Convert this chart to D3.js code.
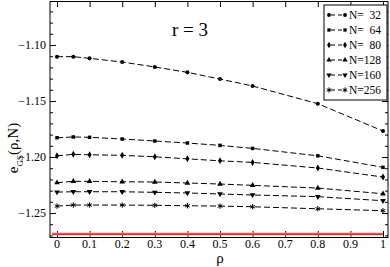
<!DOCTYPE html>
<html>
<head>
<meta charset="utf-8">
<script src="https://cdn.jsdelivr.net/npm/d3@7"></script>
<style>
  body { margin: 0; background: #fff; }
  svg { display: block; font-family: "Liberation Serif", "DejaVu Serif", serif; }
  .frame { fill: none; stroke: #000; stroke-width: 1; }
  .tick-label { font-size: 12px; fill: #000; }
  .series { fill: none; stroke: #000; stroke-width: 1; stroke-dasharray: 6,3; }
  .legend-text { font-size: 11.5px; white-space: pre; }
</style>
</head>
<body>
<div id="chart"></div>
<script>
// Data
var rhoValues = [0, 0.05, 0.1, 0.2, 0.3, 0.4, 0.5, 0.6, 0.8, 1];
var seriesNames = ["N=  32", "N=  64", "N=  80", "N=128", "N=160", "N=256"];
var e32  = [-1.1104, -1.1104, -1.1119, -1.1152, -1.1196, -1.1244, -1.1304, -1.1366, -1.1524, -1.1768];
var e64  = [-1.1828, -1.1821, -1.1824, -1.1839, -1.1857, -1.1875, -1.1896, -1.1923, -1.1989, -1.2092];
var e80  = [-1.1989, -1.1976, -1.1980, -1.1985, -1.1998, -1.2016, -1.2034, -1.2048, -1.2098, -1.2179];
var e128 = [-1.2229, -1.2217, -1.2217, -1.2221, -1.2223, -1.2232, -1.2241, -1.2253, -1.2277, -1.2328];
var e160 = [-1.2313, -1.2310, -1.2310, -1.2310, -1.2315, -1.2321, -1.2330, -1.2339, -1.2354, -1.2390];
var e256 = [-1.2438, -1.2429, -1.2429, -1.2429, -1.2431, -1.2435, -1.2438, -1.2444, -1.2462, -1.2479];
var refLevel = -1.2688;
var xTicks = [0, 0.1, 0.2, 0.3, 0.4, 0.5, 0.6, 0.7, 0.8, 0.9, 1];
var yTicks = [-1.25, -1.20, -1.15, -1.10];

var allSeries = [e32, e64, e80, e128, e160, e256];
var symbols = [d3.symbolCircle, d3.symbolSquare, d3.symbolDiamond, d3.symbolTriangle, "down", d3.symbolAsterisk];

var width = 390, height = 267;
var frame = { left: 50, right: 388, top: 1, bottom: 237 };

var svg = d3.select("#chart").append("svg")
  .attr("width", width)
  .attr("height", height);

var xScale = d3.scaleLinear().domain([-0.0215, 1.0153]).range([frame.left, frame.right]);
var yScale = d3.scaleLinear().domain([-1.2714, -1.0607]).range([frame.bottom, frame.top]);

var fmtY = d3.format(".2f");
var fmtX = function(d) { return d === 0 || d === 1 ? String(d) : d3.format(".1f")(d); };

// Axes (ticks pointing inward, on all four sides)
var minorY = d3.range(-1.27, -1.06, 0.01).map(function(d) { return +d.toFixed(2); });

function noDomain(g) { g.select(".domain").remove(); }

svg.append("g").attr("transform", "translate(" + frame.left + ",0)")
  .call(d3.axisRight(yScale).tickValues(minorY).tickSize(3).tickFormat(""))
  .call(noDomain);
svg.append("g").attr("transform", "translate(" + frame.left + ",0)")
  .call(d3.axisRight(yScale).tickValues(yTicks).tickSize(6).tickFormat(""))
  .call(noDomain);
svg.append("g").attr("transform", "translate(" + frame.right + ",0)")
  .call(d3.axisLeft(yScale).tickValues(minorY).tickSize(3).tickFormat(""))
  .call(noDomain);
svg.append("g").attr("transform", "translate(" + frame.right + ",0)")
  .call(d3.axisLeft(yScale).tickValues(yTicks).tickSize(6).tickFormat(""))
  .call(noDomain);
svg.append("g").attr("transform", "translate(0," + frame.bottom + ")")
  .call(d3.axisTop(xScale).tickValues(xTicks).tickSize(6).tickFormat(""))
  .call(noDomain);
svg.append("g").attr("transform", "translate(0," + frame.top + ")")
  .call(d3.axisBottom(xScale).tickValues(xTicks).tickSize(6).tickFormat(""))
  .call(noDomain);

// Tick labels
svg.append("g").selectAll("text")
  .data(yTicks).enter().append("text")
  .attr("class", "tick-label")
  .attr("x", frame.left - 4)
  .attr("y", d => yScale(d) + 4)
  .attr("text-anchor", "end")
  .text(d => fmtY(d));

svg.append("g").selectAll("text")
  .data(xTicks).enter().append("text")
  .attr("class", "tick-label")
  .attr("x", d => xScale(d))
  .attr("y", 248)
  .attr("text-anchor", "middle")
  .text(fmtX);

// Axis titles
svg.append("text")
  .attr("x", xScale(0.5))
  .attr("y", 263)
  .attr("text-anchor", "middle")
  .style("font-size", "15px")
  .text("ρ");

var yTitle = svg.append("text")
  .attr("transform", "translate(18,148) rotate(-90)")
  .attr("text-anchor", "middle")
  .style("font-size", "15px");
yTitle.append("tspan").text("e");
yTitle.append("tspan").attr("baseline-shift", "sub").style("font-size", "9px").text("GS");
yTitle.append("tspan").text("(ρ,N)");

// Reference line
svg.append("line")
  .attr("x1", xScale(-0.015)).attr("x2", xScale(1))
  .attr("y1", yScale(refLevel)).attr("y2", yScale(refLevel))
  .attr("stroke", "#eeb0b0").attr("stroke-width", 3);
svg.append("line")
  .attr("x1", xScale(-0.015)).attr("x2", xScale(1))
  .attr("y1", yScale(refLevel)).attr("y2", yScale(refLevel))
  .attr("stroke", "#e00000").attr("stroke-width", 1.3);

// Series
var line = d3.line().x((d, i) => xScale(rhoValues[i])).y(d => yScale(d));

function drawSymbol(sel, sym, scale) {
  var s = scale || 1;
  if (sym === "down") sym = d3.symbolTriangle;
  if (sym === d3.symbolAsterisk) {
    sel.append("path")
      .attr("d", d3.symbol().type(sym).size(20 * s)())
      .attr("fill", "none").attr("stroke", "#000").attr("stroke-width", 1);
    return;
  }
  var size = sym === d3.symbolCircle ? 13 : (sym === d3.symbolSquare ? 12 : 14);
  sel.append("path")
    .attr("d", d3.symbol().type(sym).size(size * s)())
    .attr("fill", "#000");
}

allSeries.forEach(function(vals, k) {
  var g = svg.append("g");
  g.append("path").attr("class", "series").attr("d", line(vals));
  var pts = g.selectAll("g.pt").data(vals).enter().append("g")
    .attr("class", "pt")
    .attr("transform", (d, i) => "translate(" + xScale(rhoValues[i]) + "," + yScale(d) + ")" + (symbols[k] === "down" ? " rotate(180)" : ""));
  drawSymbol(pts, symbols[k]);
});

// Title
svg.append("text")
  .attr("x", 190)
  .attr("y", 36)
  .attr("text-anchor", "middle")
  .style("font-size", "19px")
  .text("r = 3");

// Legend
var legend = svg.append("g").attr("transform", "translate(324,5)");
legend.append("rect")
  .attr("width", 63).attr("height", 95)
  .attr("fill", "#fff").attr("stroke", "#000").attr("stroke-width", 1);
seriesNames.forEach(function(name, k) {
  var row = legend.append("g").attr("transform", "translate(0," + (10 + k * 15) + ")");
  row.append("line")
    .attr("x1", 5).attr("x2", 21).attr("y1", 0).attr("y2", 0)
    .attr("class", "series")
    .style("stroke-dasharray", "4,3")
    .attr("stroke-dashoffset", -2);
  [5, 21].forEach(function(px) {
    var m = row.append("g").attr("transform", "translate(" + px + ",0)" + (symbols[k] === "down" ? " rotate(180)" : ""));
    drawSymbol(m, symbols[k], 0.9);
  });
  row.append("text")
    .attr("class", "legend-text")
    .attr("x", 25).attr("y", 4)
    .attr("xml:space", "preserve")
    .text(name);
});

// Frame
svg.append("rect")
  .attr("class", "frame")
  .attr("x", frame.left).attr("y", frame.top + 0.5)
  .attr("width", frame.right - frame.left)
  .attr("height", frame.bottom - frame.top);
</script>
</body>
</html>
